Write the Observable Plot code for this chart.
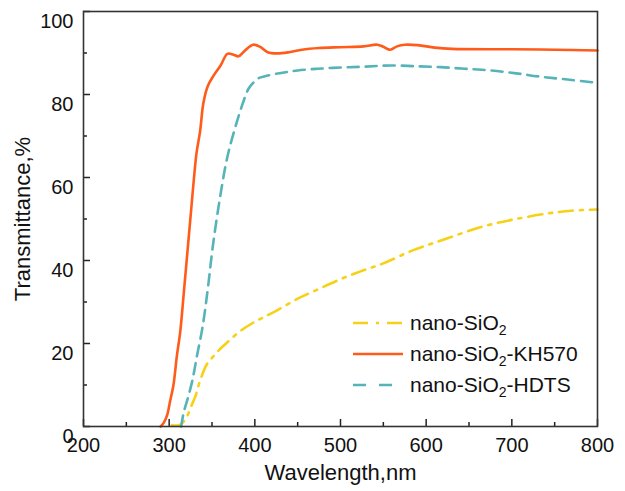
<!DOCTYPE html>
<html>
<head>
<meta charset="utf-8">
<script src="https://cdn.jsdelivr.net/npm/d3@7"></script>
<script src="https://cdn.jsdelivr.net/npm/@observablehq/plot@0.6"></script>
<style>
  html, body { margin: 0; padding: 0; background: #fff; }
  svg { display: block; }
</style>
</head>
<body>
<div id="chart"></div>
<script>
// ---- data ----
const seriesNames = ["nano-SiO2", "nano-SiO2-KH570", "nano-SiO2-HDTS"];

const sio2Wavelength = [303, 312, 316, 321, 326, 331, 336, 344, 352, 360, 368, 383, 398, 410, 426, 450, 471, 500, 525, 550, 585, 620, 663, 700, 741, 770, 800];
const sio2Transmittance = [0.3, 0.3, 1, 2.5, 5, 7.5, 11, 15, 17, 18.8, 20.3, 23, 25, 26.3, 28, 30.8, 32.8, 35.5, 37.5, 39.3, 42.5, 45, 48, 49.8, 51.3, 52, 52.3];

const kh570Wavelength = [290, 294, 298, 301, 305, 309, 313, 317, 320, 323, 326, 329, 332, 336, 340, 345, 352, 360, 368, 375, 381, 388, 398, 406, 415, 426, 440, 455, 475, 500, 527, 543, 550, 558, 566, 575, 590, 610, 630, 700, 750, 800];
const kh570Transmittance = [0, 1, 3, 6, 10, 17, 23, 32, 39, 46, 53, 60, 66, 71, 78, 82, 84.6, 87, 89.8, 89.6, 89.2, 90.5, 92.0, 91.5, 90.2, 89.9, 90.2, 90.8, 91.2, 91.4, 91.6, 92.0, 91.5, 90.8, 91.6, 92.0, 91.9, 91.3, 91.0, 90.9, 90.8, 90.6];

const hdtsWavelength = [314, 317, 322, 327, 333, 339, 345, 351, 360, 368, 377, 387, 393, 399, 405, 412, 420, 434, 450, 473, 500, 527, 558, 590, 617, 645, 675, 705, 733, 765, 800];
const hdtsTransmittance = [0, 3.4, 7, 11, 17.6, 24, 33, 43.5, 56, 65, 72, 78.5, 81.5, 83, 84, 84.4, 84.8, 85.3, 85.8, 86.2, 86.5, 86.7, 87.0, 86.8, 86.6, 86.2, 85.8, 85.1, 84.3, 83.6, 82.8];

const xMajorTicks = [200, 300, 400, 500, 600, 700, 800];
const xMinorTicks = [250, 350, 450, 550, 650, 750];
const yMajorTicks = [0, 20, 40, 60, 80, 100];
const yMinorTicks = [10, 30, 50, 70, 90];
const xTickLabels = ["200", "300", "400", "500", "600", "700", "800"];
const yTickLabels = ["0", "20", "40", "60", "80", "100"];
const xTitle = "Wavelength,nm";
const yTitle = "Transmittance,%";

// ---- build tables ----
const toRows = (xs, ys) => xs.map((x, i) => ({x, y: ys[i]}));
const sio2 = toRows(sio2Wavelength, sio2Transmittance);
const kh570 = toRows(kh570Wavelength, kh570Transmittance);
const hdts = toRows(hdtsWavelength, hdtsTransmittance);

const colors = {sio2: "#f7d117", kh570: "#ff5b1a", hdts: "#56b4b9"};
const dashes = {sio2: "14,7,3,7", kh570: null, hdts: "11,7"};
const font = "'Liberation Sans', Arial, sans-serif";

const W = 625, H = 491;
const mL = 83, mR = 28, mT = 11, mB = 65;
const frameW = W - mL - mR, frameH = H - mT - mB;

const chart = Plot.plot({
  width: W,
  height: H,
  marginLeft: mL,
  marginRight: mR,
  marginTop: mT,
  marginBottom: mB,
  x: {domain: [200, 800], axis: null},
  y: {domain: [0, 100], axis: null},
  style: {fontFamily: font, background: "#fff", color: "#111"},
  marks: [
    Plot.line(sio2, {x: "x", y: "y", stroke: colors.sio2, strokeWidth: 2.6, strokeDasharray: dashes.sio2, curve: "catmull-rom"}),
    Plot.line(hdts, {x: "x", y: "y", stroke: colors.hdts, strokeWidth: 2.6, strokeDasharray: dashes.hdts, curve: "catmull-rom"}),
    Plot.line(kh570, {x: "x", y: "y", stroke: colors.kh570, strokeWidth: 2.6, curve: "catmull-rom"}),
    // inward ticks
    Plot.tickX(xMajorTicks, {x: d => d, stroke: "#222", strokeWidth: 1.5, insetTop: frameH - 7}),
    Plot.tickX(xMinorTicks, {x: d => d, stroke: "#222", strokeWidth: 1.5, insetTop: frameH - 4}),
    Plot.tickY(yMajorTicks, {y: d => d, stroke: "#222", strokeWidth: 1.5, insetRight: frameW - 7}),
    Plot.tickY(yMinorTicks, {y: d => d, stroke: "#222", strokeWidth: 1.5, insetRight: frameW - 4}),
    Plot.frame({stroke: "#333", strokeWidth: 1.6}),
    // tick labels
    Plot.text(xMajorTicks, {x: d => d, y: 0, dy: 19, text: (d, i) => xTickLabels[i], fontSize: 20, fill: "#111"}),
    Plot.text(yMajorTicks, {x: 200, y: d => d, dx: -10, dy: 10, text: (d, i) => yTickLabels[i], textAnchor: "end", fontSize: 20, fill: "#111"}),
    // axis titles
    Plot.text([xTitle], {frameAnchor: "bottom", dy: 53, text: d => d, fontSize: 22, textAnchor: "middle", fill: "#111"}),
    Plot.text([yTitle], {frameAnchor: "left", dx: -61, dy: 0, rotate: -90, textAnchor: "middle", text: d => d, fontSize: 22, fill: "#111"})
  ]
});

// ---- legend (inside plot, lower right) ----
const svg = d3.select(chart);
const legend = svg.append("g")
  .attr("font-family", font).attr("font-size", 21).attr("fill", "#111")
  .attr("text-anchor", "start");
const legendItems = [
  {key: "sio2", parts: ["nano-SiO", "2", ""]},
  {key: "kh570", parts: ["nano-SiO", "2", "-KH570"]},
  {key: "hdts", parts: ["nano-SiO", "2", "-HDTS"]}
];
const rowY = [323, 354, 385];
legendItems.forEach((it, i) => {
  const y = rowY[i];
  legend.append("line")
    .attr("x1", 353).attr("x2", 403).attr("y1", y).attr("y2", y)
    .attr("stroke", colors[it.key]).attr("stroke-width", 2.6)
    .attr("stroke-dasharray", it.key === "hdts" ? "13,13" : it.key === "sio2" ? "15,8,3,8" : null);
  const t = legend.append("text").attr("x", 410).attr("y", y + 7).attr("text-anchor", "start");
  t.append("tspan").text(it.parts[0]);
  t.append("tspan").attr("font-size", 14).attr("dy", 5).text(it.parts[1]);
  if (it.parts[2]) t.append("tspan").attr("dy", -5).text(it.parts[2]);
});

document.getElementById("chart").appendChild(chart);
</script>
</body>
</html>
